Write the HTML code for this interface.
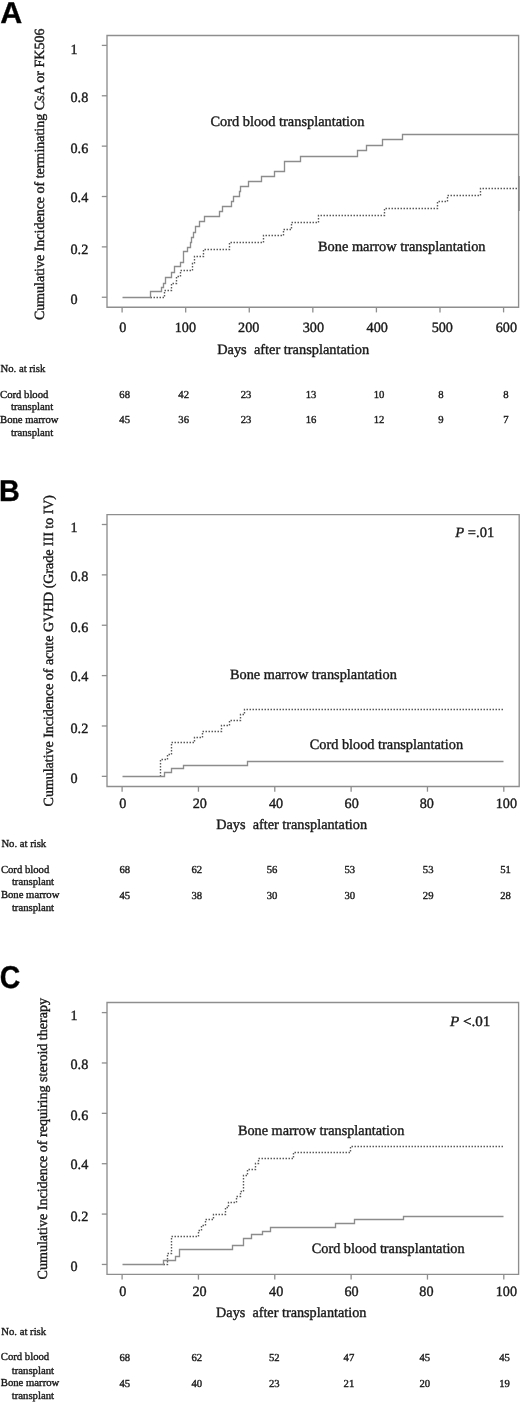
<!DOCTYPE html>
<html><head><meta charset="utf-8"><style>
html,body{margin:0;padding:0;background:#fff;}
body{width:520px;height:1405px;overflow:hidden;}
svg{display:block;filter:grayscale(1);}
text{stroke:#1a1a1a;stroke-width:0.38px;}
</style></head><body>
<svg width="520" height="1405" viewBox="0 0 520 1405" text-rendering="geometricPrecision" font-family='"Liberation Serif", serif' fill="#1a1a1a">
<text transform="translate(0.30,23.20) scale(1.015,1.0)" font-family='"Liberation Sans", sans-serif' font-weight="bold" text-rendering="geometricPrecision" font-size="30" fill="#000">A</text>
<path d="M107,35.5 H518.6 V307.2 H107 Z" fill="none" stroke="#8e8e8e" stroke-width="1.35"/>
<line x1="101.80" y1="45.40" x2="107.00" y2="45.40" stroke="#8e8e8e" stroke-width="1.3"/>
<text x="70.50" y="53.70" font-size="14.2" text-anchor="start" >1</text>
<line x1="101.80" y1="95.77" x2="107.00" y2="95.77" stroke="#8e8e8e" stroke-width="1.3"/>
<text x="70.50" y="102.37" font-size="14.2" text-anchor="start" >0.8</text>
<line x1="101.80" y1="146.14" x2="107.00" y2="146.14" stroke="#8e8e8e" stroke-width="1.3"/>
<text x="70.50" y="153.34" font-size="14.2" text-anchor="start" >0.6</text>
<line x1="101.80" y1="196.51" x2="107.00" y2="196.51" stroke="#8e8e8e" stroke-width="1.3"/>
<text x="70.50" y="202.31" font-size="14.2" text-anchor="start" >0.4</text>
<line x1="101.80" y1="246.88" x2="107.00" y2="246.88" stroke="#8e8e8e" stroke-width="1.3"/>
<text x="70.50" y="254.18" font-size="14.2" text-anchor="start" >0.2</text>
<line x1="101.80" y1="297.25" x2="107.00" y2="297.25" stroke="#8e8e8e" stroke-width="1.3"/>
<text x="70.50" y="304.35" font-size="14.2" text-anchor="start" >0</text>
<line x1="122.10" y1="307.20" x2="122.10" y2="312.40" stroke="#8e8e8e" stroke-width="1.3"/>
<text x="122.70" y="331.90" font-size="14.2" text-anchor="middle" >0</text>
<line x1="185.68" y1="307.20" x2="185.68" y2="312.40" stroke="#8e8e8e" stroke-width="1.3"/>
<text x="185.40" y="331.90" font-size="14.2" text-anchor="middle" >100</text>
<line x1="249.26" y1="307.20" x2="249.26" y2="312.40" stroke="#8e8e8e" stroke-width="1.3"/>
<text x="248.70" y="331.90" font-size="14.2" text-anchor="middle" >200</text>
<line x1="312.84" y1="307.20" x2="312.84" y2="312.40" stroke="#8e8e8e" stroke-width="1.3"/>
<text x="313.40" y="331.90" font-size="14.2" text-anchor="middle" >300</text>
<line x1="376.42" y1="307.20" x2="376.42" y2="312.40" stroke="#8e8e8e" stroke-width="1.3"/>
<text x="377.20" y="331.90" font-size="14.2" text-anchor="middle" >400</text>
<line x1="440.00" y1="307.20" x2="440.00" y2="312.40" stroke="#8e8e8e" stroke-width="1.3"/>
<text x="442.30" y="331.90" font-size="14.2" text-anchor="middle" >500</text>
<line x1="503.58" y1="307.20" x2="503.58" y2="312.40" stroke="#8e8e8e" stroke-width="1.3"/>
<text x="506.40" y="331.90" font-size="14.2" text-anchor="middle" >600</text>
<text x="217.20" y="353.50" font-size="14.2" textLength="152.00" lengthAdjust="spacingAndGlyphs">Days&#160;&#160;after transplantation</text>
<text transform="translate(43.70,320.10) rotate(-90)" font-size="14" textLength="291.50" lengthAdjust="spacingAndGlyphs">Cumulative Incidence of terminating CsA or FK506</text>
<text x="210.40" y="126.10" font-size="14.3" textLength="154.10" lengthAdjust="spacingAndGlyphs">Cord blood transplantation</text>
<text x="318.00" y="250.80" font-size="14.3" textLength="167.50" lengthAdjust="spacingAndGlyphs">Bone marrow transplantation</text>
<text x="0.50" y="371.50" font-size="10.7" text-anchor="start" >No. at risk</text>
<text x="0.00" y="397.50" font-size="10.7" text-anchor="start" >Cord blood</text>
<text x="11.00" y="410.00" font-size="10.7" text-anchor="start" >transplant</text>
<text x="0.00" y="422.90" font-size="10.7" text-anchor="start" >Bone marrow</text>
<text x="11.00" y="435.60" font-size="10.7" text-anchor="start" >transplant</text>
<text x="124.70" y="397.60" font-size="10.7" text-anchor="middle" >68</text>
<text x="124.70" y="423.30" font-size="10.7" text-anchor="middle" >45</text>
<text x="183.70" y="397.60" font-size="10.7" text-anchor="middle" >42</text>
<text x="183.70" y="423.30" font-size="10.7" text-anchor="middle" >36</text>
<text x="246.00" y="397.60" font-size="10.7" text-anchor="middle" >23</text>
<text x="246.00" y="423.30" font-size="10.7" text-anchor="middle" >23</text>
<text x="311.00" y="397.60" font-size="10.7" text-anchor="middle" >13</text>
<text x="311.00" y="423.30" font-size="10.7" text-anchor="middle" >16</text>
<text x="379.00" y="397.60" font-size="10.7" text-anchor="middle" >10</text>
<text x="379.00" y="423.30" font-size="10.7" text-anchor="middle" >12</text>
<text x="441.00" y="397.60" font-size="10.7" text-anchor="middle" >8</text>
<text x="441.00" y="423.30" font-size="10.7" text-anchor="middle" >9</text>
<text x="506.00" y="397.60" font-size="10.7" text-anchor="middle" >8</text>
<text x="506.00" y="423.30" font-size="10.7" text-anchor="middle" >7</text>
<polyline points="150.50,297.50 164.50,297.50 164.50,290.50 171.50,290.50 171.50,283.50 176.50,283.50 176.50,276.50 180.50,276.50 180.50,270.50 192.50,270.50 192.50,263.50 194.50,263.50 194.50,256.50 203.50,256.50 203.50,249.50 229.50,249.50 229.50,242.50 263.50,242.50 263.50,235.50 283.50,235.50 283.50,229.50 291.50,229.50 291.50,222.50 318.50,222.50 318.50,215.50 384.50,215.50 384.50,208.50 437.50,208.50 437.50,201.50 447.50,201.50 447.50,195.50 480.50,195.50 480.50,188.50 518.50,188.50 518.50,188.50" fill="none" stroke="#5a5a5a" stroke-width="1.4" stroke-dasharray="1.5 1.5"/>
<polyline points="122.50,297.50 150.50,297.50 150.50,291.50 161.50,291.50 161.50,287.50 163.50,287.50 163.50,283.50 165.50,283.50 165.50,277.50 171.50,277.50 171.50,272.50 174.50,272.50 174.50,266.50 180.50,266.50 180.50,262.50 183.50,262.50 183.50,251.50 187.50,251.50 187.50,247.50 190.50,247.50 190.50,242.50 191.50,242.50 191.50,237.50 193.50,237.50 193.50,232.50 195.50,232.50 195.50,226.50 199.50,226.50 199.50,221.50 204.50,221.50 204.50,216.50 219.50,216.50 219.50,211.50 222.50,211.50 222.50,206.50 231.50,206.50 231.50,201.50 233.50,201.50 233.50,196.50 239.50,196.50 239.50,191.50 240.50,191.50 240.50,186.50 248.50,186.50 248.50,181.50 261.50,181.50 261.50,176.50 274.50,176.50 274.50,171.50 284.50,171.50 284.50,161.50 300.50,161.50 300.50,156.50 357.50,156.50 357.50,150.50 366.50,150.50 366.50,145.50 382.50,145.50 382.50,139.50 402.50,139.50 402.50,134.50 518.50,134.50 518.50,134.50" fill="none" stroke="#8c8c8c" stroke-width="1.35"/>
<line x1="518.90" y1="176.00" x2="518.90" y2="211.00" stroke="#888" stroke-width="1.6"/>
<text transform="translate(-0.90,500.50) scale(0.96,1.0)" font-family='"Liberation Sans", sans-serif' font-weight="bold" text-rendering="geometricPrecision" font-size="30" fill="#000">B</text>
<path d="M107,514.6 H519.2 V786.5 H107 Z" fill="none" stroke="#8e8e8e" stroke-width="1.35"/>
<line x1="101.80" y1="524.50" x2="107.00" y2="524.50" stroke="#8e8e8e" stroke-width="1.3"/>
<text x="70.50" y="532.20" font-size="14.2" text-anchor="start" >1</text>
<line x1="101.80" y1="574.87" x2="107.00" y2="574.87" stroke="#8e8e8e" stroke-width="1.3"/>
<text x="70.50" y="580.87" font-size="14.2" text-anchor="start" >0.8</text>
<line x1="101.80" y1="625.24" x2="107.00" y2="625.24" stroke="#8e8e8e" stroke-width="1.3"/>
<text x="70.50" y="631.84" font-size="14.2" text-anchor="start" >0.6</text>
<line x1="101.80" y1="675.61" x2="107.00" y2="675.61" stroke="#8e8e8e" stroke-width="1.3"/>
<text x="70.50" y="680.81" font-size="14.2" text-anchor="start" >0.4</text>
<line x1="101.80" y1="725.98" x2="107.00" y2="725.98" stroke="#8e8e8e" stroke-width="1.3"/>
<text x="70.50" y="732.68" font-size="14.2" text-anchor="start" >0.2</text>
<line x1="101.80" y1="776.35" x2="107.00" y2="776.35" stroke="#8e8e8e" stroke-width="1.3"/>
<text x="70.50" y="782.85" font-size="14.2" text-anchor="start" >0</text>
<line x1="122.10" y1="786.50" x2="122.10" y2="791.70" stroke="#8e8e8e" stroke-width="1.3"/>
<text x="122.70" y="807.90" font-size="14.2" text-anchor="middle" >0</text>
<line x1="198.44" y1="786.50" x2="198.44" y2="791.70" stroke="#8e8e8e" stroke-width="1.3"/>
<text x="199.80" y="807.90" font-size="14.2" text-anchor="middle" >20</text>
<line x1="274.78" y1="786.50" x2="274.78" y2="791.70" stroke="#8e8e8e" stroke-width="1.3"/>
<text x="276.00" y="807.90" font-size="14.2" text-anchor="middle" >40</text>
<line x1="351.12" y1="786.50" x2="351.12" y2="791.70" stroke="#8e8e8e" stroke-width="1.3"/>
<text x="351.70" y="807.90" font-size="14.2" text-anchor="middle" >60</text>
<line x1="427.46" y1="786.50" x2="427.46" y2="791.70" stroke="#8e8e8e" stroke-width="1.3"/>
<text x="426.80" y="807.90" font-size="14.2" text-anchor="middle" >80</text>
<line x1="503.80" y1="786.50" x2="503.80" y2="791.70" stroke="#8e8e8e" stroke-width="1.3"/>
<text x="506.40" y="807.90" font-size="14.2" text-anchor="middle" >100</text>
<text x="216.20" y="829.40" font-size="14.2" textLength="150.90" lengthAdjust="spacingAndGlyphs">Days&#160;&#160;after transplantation</text>
<text transform="translate(52.80,806.40) rotate(-90)" font-size="14" textLength="311.40" lengthAdjust="spacingAndGlyphs">Cumulative Incidence of acute GVHD (Grade III to IV)</text>
<text x="230.00" y="678.80" font-size="14.3" textLength="166.90" lengthAdjust="spacingAndGlyphs">Bone marrow transplantation</text>
<text x="309.70" y="748.70" font-size="14.3" textLength="153.40" lengthAdjust="spacingAndGlyphs">Cord blood transplantation</text>
<text x="455.30" y="537.30" font-size="14.3" textLength="38.90" lengthAdjust="spacingAndGlyphs"><tspan font-style="italic">P</tspan> =.01</text>
<text x="1.40" y="846.90" font-size="10.7" text-anchor="start" >No. at risk</text>
<text x="0.90" y="872.70" font-size="10.7" text-anchor="start" >Cord blood</text>
<text x="11.90" y="884.80" font-size="10.7" text-anchor="start" >transplant</text>
<text x="0.90" y="898.30" font-size="10.7" text-anchor="start" >Bone marrow</text>
<text x="11.90" y="910.80" font-size="10.7" text-anchor="start" >transplant</text>
<text x="124.80" y="872.80" font-size="10.7" text-anchor="middle" >68</text>
<text x="124.80" y="898.70" font-size="10.7" text-anchor="middle" >45</text>
<text x="196.80" y="872.80" font-size="10.7" text-anchor="middle" >62</text>
<text x="196.80" y="898.70" font-size="10.7" text-anchor="middle" >38</text>
<text x="272.00" y="872.80" font-size="10.7" text-anchor="middle" >56</text>
<text x="272.00" y="898.70" font-size="10.7" text-anchor="middle" >30</text>
<text x="349.80" y="872.80" font-size="10.7" text-anchor="middle" >53</text>
<text x="349.80" y="898.70" font-size="10.7" text-anchor="middle" >30</text>
<text x="428.20" y="872.80" font-size="10.7" text-anchor="middle" >53</text>
<text x="428.20" y="898.70" font-size="10.7" text-anchor="middle" >29</text>
<text x="505.50" y="872.80" font-size="10.7" text-anchor="middle" >51</text>
<text x="505.50" y="898.70" font-size="10.7" text-anchor="middle" >28</text>
<polyline points="160.50,776.50 160.50,776.50 160.50,759.50 167.50,759.50 167.50,754.50 171.50,754.50 171.50,742.50 194.50,742.50 194.50,737.50 202.50,737.50 202.50,731.50 221.50,731.50 221.50,725.50 229.50,725.50 229.50,720.50 240.50,720.50 240.50,714.50 244.50,714.50 244.50,709.50 503.50,709.50 503.50,709.50" fill="none" stroke="#5a5a5a" stroke-width="1.4" stroke-dasharray="1.5 1.5"/>
<polyline points="122.50,776.50 164.50,776.50 164.50,772.50 171.50,772.50 171.50,768.50 183.50,768.50 183.50,765.50 247.50,765.50 247.50,761.50 503.50,761.50 503.50,761.50" fill="none" stroke="#8c8c8c" stroke-width="1.35"/>
<text transform="translate(-0.20,987.90) scale(0.9,1.0)" font-family='"Liberation Sans", sans-serif' font-weight="bold" text-rendering="geometricPrecision" font-size="31.6" fill="#000">C</text>
<path d="M107,1002.5 H518.6 V1274.4 H107 Z" fill="none" stroke="#8e8e8e" stroke-width="1.35"/>
<line x1="101.80" y1="1012.60" x2="107.00" y2="1012.60" stroke="#8e8e8e" stroke-width="1.3"/>
<text x="70.50" y="1020.30" font-size="14.2" text-anchor="start" >1</text>
<line x1="101.80" y1="1062.97" x2="107.00" y2="1062.97" stroke="#8e8e8e" stroke-width="1.3"/>
<text x="70.50" y="1068.97" font-size="14.2" text-anchor="start" >0.8</text>
<line x1="101.80" y1="1113.34" x2="107.00" y2="1113.34" stroke="#8e8e8e" stroke-width="1.3"/>
<text x="70.50" y="1119.94" font-size="14.2" text-anchor="start" >0.6</text>
<line x1="101.80" y1="1163.71" x2="107.00" y2="1163.71" stroke="#8e8e8e" stroke-width="1.3"/>
<text x="70.50" y="1168.91" font-size="14.2" text-anchor="start" >0.4</text>
<line x1="101.80" y1="1214.08" x2="107.00" y2="1214.08" stroke="#8e8e8e" stroke-width="1.3"/>
<text x="70.50" y="1220.78" font-size="14.2" text-anchor="start" >0.2</text>
<line x1="101.80" y1="1264.45" x2="107.00" y2="1264.45" stroke="#8e8e8e" stroke-width="1.3"/>
<text x="70.50" y="1270.95" font-size="14.2" text-anchor="start" >0</text>
<line x1="122.10" y1="1274.40" x2="122.10" y2="1279.60" stroke="#8e8e8e" stroke-width="1.3"/>
<text x="122.70" y="1295.70" font-size="14.2" text-anchor="middle" >0</text>
<line x1="198.44" y1="1274.40" x2="198.44" y2="1279.60" stroke="#8e8e8e" stroke-width="1.3"/>
<text x="199.60" y="1295.70" font-size="14.2" text-anchor="middle" >20</text>
<line x1="274.78" y1="1274.40" x2="274.78" y2="1279.60" stroke="#8e8e8e" stroke-width="1.3"/>
<text x="276.20" y="1295.70" font-size="14.2" text-anchor="middle" >40</text>
<line x1="351.12" y1="1274.40" x2="351.12" y2="1279.60" stroke="#8e8e8e" stroke-width="1.3"/>
<text x="351.50" y="1295.70" font-size="14.2" text-anchor="middle" >60</text>
<line x1="427.46" y1="1274.40" x2="427.46" y2="1279.60" stroke="#8e8e8e" stroke-width="1.3"/>
<text x="426.40" y="1295.70" font-size="14.2" text-anchor="middle" >80</text>
<line x1="503.80" y1="1274.40" x2="503.80" y2="1279.60" stroke="#8e8e8e" stroke-width="1.3"/>
<text x="506.40" y="1295.70" font-size="14.2" text-anchor="middle" >100</text>
<text x="216.10" y="1317.30" font-size="14.2" textLength="150.30" lengthAdjust="spacingAndGlyphs">Days&#160;&#160;after transplantation</text>
<text transform="translate(47.00,1279.40) rotate(-90)" font-size="14" textLength="281.40" lengthAdjust="spacingAndGlyphs">Cumulative Incidence of requiring steroid therapy</text>
<text x="237.90" y="1134.80" font-size="14.3" textLength="166.40" lengthAdjust="spacingAndGlyphs">Bone marrow transplantation</text>
<text x="311.80" y="1252.90" font-size="14.3" textLength="152.80" lengthAdjust="spacingAndGlyphs">Cord blood transplantation</text>
<text x="450.00" y="1025.60" font-size="14.3" textLength="40.30" lengthAdjust="spacingAndGlyphs"><tspan font-style="italic">P</tspan> &lt;.01</text>
<text x="1.30" y="1335.00" font-size="10.7" text-anchor="start" >No. at risk</text>
<text x="0.80" y="1360.40" font-size="10.7" text-anchor="start" >Cord blood</text>
<text x="11.80" y="1373.60" font-size="10.7" text-anchor="start" >transplant</text>
<text x="0.80" y="1386.30" font-size="10.7" text-anchor="start" >Bone marrow</text>
<text x="11.80" y="1399.40" font-size="10.7" text-anchor="start" >transplant</text>
<text x="124.80" y="1360.50" font-size="10.7" text-anchor="middle" >68</text>
<text x="124.80" y="1386.70" font-size="10.7" text-anchor="middle" >45</text>
<text x="196.80" y="1360.50" font-size="10.7" text-anchor="middle" >62</text>
<text x="196.80" y="1386.70" font-size="10.7" text-anchor="middle" >40</text>
<text x="274.30" y="1360.50" font-size="10.7" text-anchor="middle" >52</text>
<text x="274.30" y="1386.70" font-size="10.7" text-anchor="middle" >23</text>
<text x="348.90" y="1360.50" font-size="10.7" text-anchor="middle" >47</text>
<text x="348.90" y="1386.70" font-size="10.7" text-anchor="middle" >21</text>
<text x="424.80" y="1360.50" font-size="10.7" text-anchor="middle" >45</text>
<text x="424.80" y="1386.70" font-size="10.7" text-anchor="middle" >20</text>
<text x="504.50" y="1360.50" font-size="10.7" text-anchor="middle" >45</text>
<text x="504.50" y="1386.70" font-size="10.7" text-anchor="middle" >19</text>
<polyline points="163.50,1264.50 167.50,1264.50 167.50,1253.50 171.50,1253.50 171.50,1236.50 198.50,1236.50 198.50,1230.50 201.50,1230.50 201.50,1225.50 205.50,1225.50 205.50,1219.50 213.50,1219.50 213.50,1214.50 225.50,1214.50 225.50,1207.50 228.50,1207.50 228.50,1202.50 236.50,1202.50 236.50,1196.50 240.50,1196.50 240.50,1191.50 243.50,1191.50 243.50,1175.50 247.50,1175.50 247.50,1169.50 255.50,1169.50 255.50,1163.50 258.50,1163.50 258.50,1158.50 293.50,1158.50 293.50,1152.50 350.50,1152.50 350.50,1146.50 503.50,1146.50 503.50,1146.50" fill="none" stroke="#5a5a5a" stroke-width="1.4" stroke-dasharray="1.5 1.5"/>
<polyline points="122.50,1264.50 163.50,1264.50 163.50,1260.50 175.50,1260.50 175.50,1256.50 179.50,1256.50 179.50,1249.50 232.50,1249.50 232.50,1245.50 243.50,1245.50 243.50,1238.50 251.50,1238.50 251.50,1234.50 262.50,1234.50 262.50,1231.50 270.50,1231.50 270.50,1227.50 335.50,1227.50 335.50,1223.50 354.50,1223.50 354.50,1219.50 403.50,1219.50 403.50,1216.50 503.50,1216.50 503.50,1216.50" fill="none" stroke="#8c8c8c" stroke-width="1.35"/>
</svg>
</body></html>
